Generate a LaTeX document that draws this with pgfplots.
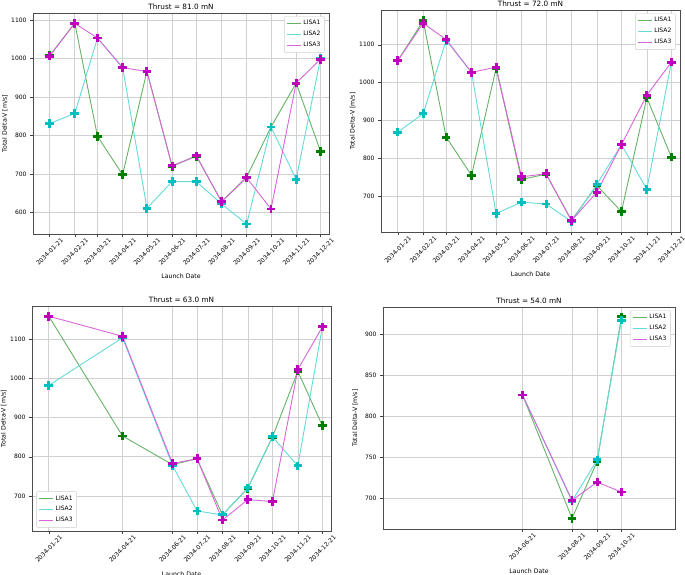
\documentclass[border=0pt]{standalone}
\usepackage{pgfplots}
\pgfplotsset{compat=1.18}
\usepackage{pgfplotstable}
\usepackage{fontspec}
\setmainfont{DejaVu Sans}

\definecolor{cg}{rgb}{0,0.5,0}
\definecolor{cc}{rgb}{0,0.75,0.75}
\definecolor{cm}{rgb}{0.75,0,0.75}
\definecolor{lg}{rgb}{0.4,0.7,0.4}
\definecolor{lc}{rgb}{0.4,0.85,0.85}
\definecolor{lm}{rgb}{0.85,0.4,0.85}

% x = days after 2034-01-21
\pgfplotstableread{
d a b c
0 1007 831 1006
31 1092 857 1091
59 798 1053 1053
90 698 977 976
120 967 611 966
151 720 680 721
181 746 680 747
212 628 622 628
243 692 570 690
273 822 822 609
304 936 686 936
334 759 1000 998
}\tA
\pgfplotstableread{
d a b c
0 1058 869 1058
31 1164 918 1157
59 856 1112 1114
90 755 1027 1027
120 1038 654 1041
151 744 684 751
181 758 679 759
212 636 633 635
243 728 731 710
273 659 836 836
304 960 718 967
334 803 1054 1054
}\tB
\pgfplotstableread{
d a b c
0 1158 982 1158
90 853 1103 1107
151 780 778 783
181 795 662 795
212 652 652 639
243 720 721 691
273 850 851 686
304 1018 777 1022
334 879 1131 1131
}\tC
\pgfplotstableread{
d a b c
151 826 826 826
212 676 697 698
243 745 747 720
273 921 917 708
}\tD

\pgfplotsset{
  base/.style={
    scale only axis, anchor=north west,
    axis line style={draw=black!70, line width=0.7pt},
    grid=major, grid style={black!18, line width=0.6pt},
    tick align=outside, major tick length=3pt,
    xtick pos=lower, ytick pos=left,
    tick style={black!75, line width=0.5pt},
    tick label style={font=\fontsize{6}{7}\selectfont},
    /pgf/number format/assume math mode=true,
    /pgf/number format/set thousands separator={},
    xticklabel style={yshift=-15pt, rotate=45, anchor=center},
    label style={font=\fontsize{6.2}{7}\selectfont},
    xlabel={Launch Date}, ylabel={Total Delta-V [m/s]},
    xlabel style={at={(axis description cs:0.5,-0.19)}, anchor=center},
    ylabel style={at={(axis description cs:-0.095,0.5)}, anchor=center},
    every axis title shift=0pt,
    title style={font=\fontsize{7.3}{8}\selectfont, at={(axis description cs:0.5,1)}, anchor=base, yshift=3.5pt},
    legend style={font=\fontsize{6}{7}\selectfont, draw=black!20, fill=white, rounded corners=1pt,
      at={(0.985,0.985)}, anchor=north east, inner sep=2pt, row sep=1pt},
    legend cell align=left,
    legend image code/.code={\draw[#1] (0pt,0pt) -- (14pt,0pt);},
  },
  mk/.style={only marks, mark=+, mark size=4.3pt, color=#1, mark options={line width=2.9pt}},
  ln/.style={draw=#1, line width=0.9pt, mark=none},
}

\newcommand{\series}[1]{%
  \addlegendimage{draw=lg, line width=1pt}
  \addlegendimage{draw=lc, line width=1pt}
  \addlegendimage{draw=lm, line width=1pt}
  \addplot[mk=cg, forget plot] table[x=d,y=a] {#1};
  \addplot[mk=cc, forget plot] table[x=d,y=b] {#1};
  \addplot[mk=cm, forget plot] table[x=d,y=c] {#1};
  \addplot[ln=lg, forget plot] table[x=d,y=a] {#1};
  \addplot[ln=lc, forget plot] table[x=d,y=b] {#1};
  \addplot[ln=lm, forget plot] table[x=d,y=c] {#1};
  \legend{LISA1,LISA2,LISA3}}

\begin{document}
\begin{tikzpicture}
\path[use as bounding box] (0,0) rectangle (685pt,-574pt);

\begin{axis}[base, at={(33pt,-13pt)}, width=296pt, height=221pt,
  title={Thrust = 81.0 mN},
  xmin=-20.5, xmax=344.5, ymin=544, ymax=1118,
  xtick={0,31,59,90,120,151,181,212,243,273,304,334},
  xticklabels={2034-01-21,2034-02-21,2034-03-21,2034-04-21,2034-05-21,2034-06-21,2034-07-21,2034-08-21,2034-09-21,2034-10-21,2034-11-21,2034-12-21},
  ytick={600,700,800,900,1000,1100}]
\series{\tA}
\end{axis}

\begin{axis}[base, at={(381pt,-10pt)}, width=299pt, height=222pt,
  title={Thrust = 72.0 mN},
  xmin=-20.5, xmax=344.5, ymin=605, ymax=1192,
  xtick={0,31,59,90,120,151,181,212,243,273,304,334},
  xticklabels={2034-01-21,2034-02-21,2034-03-21,2034-04-21,2034-05-21,2034-06-21,2034-07-21,2034-08-21,2034-09-21,2034-10-21,2034-11-21,2034-12-21},
  ytick={700,800,900,1000,1100}]
\series{\tB}
\end{axis}

\begin{axis}[base, at={(32pt,-306pt)}, width=299pt, height=225pt,
  title={Thrust = 63.0 mN},
  xmin=-20.5, xmax=344.5, ymin=611, ymax=1184,
  xtick={0,90,151,181,212,243,273,304,334},
  xticklabels={2034-01-21,2034-04-21,2034-06-21,2034-07-21,2034-08-21,2034-09-21,2034-10-21,2034-11-21,2034-12-21},
  ytick={700,800,900,1000,1100},
  legend style={at={(0.015,0.015)}, anchor=south west}]
\series{\tC}
\end{axis}

\begin{axis}[base, at={(383pt,-307pt)}, width=292pt, height=222pt,
  title={Thrust = 54.0 mN},
  xmin=-21, xmax=339, ymin=663, ymax=933,
  xtick={151,212,243,273},
  xticklabels={2034-06-21,2034-08-21,2034-09-21,2034-10-21},
  ytick={700,750,800,850,900}]
\series{\tD}
\end{axis}
\end{tikzpicture}
\end{document}
